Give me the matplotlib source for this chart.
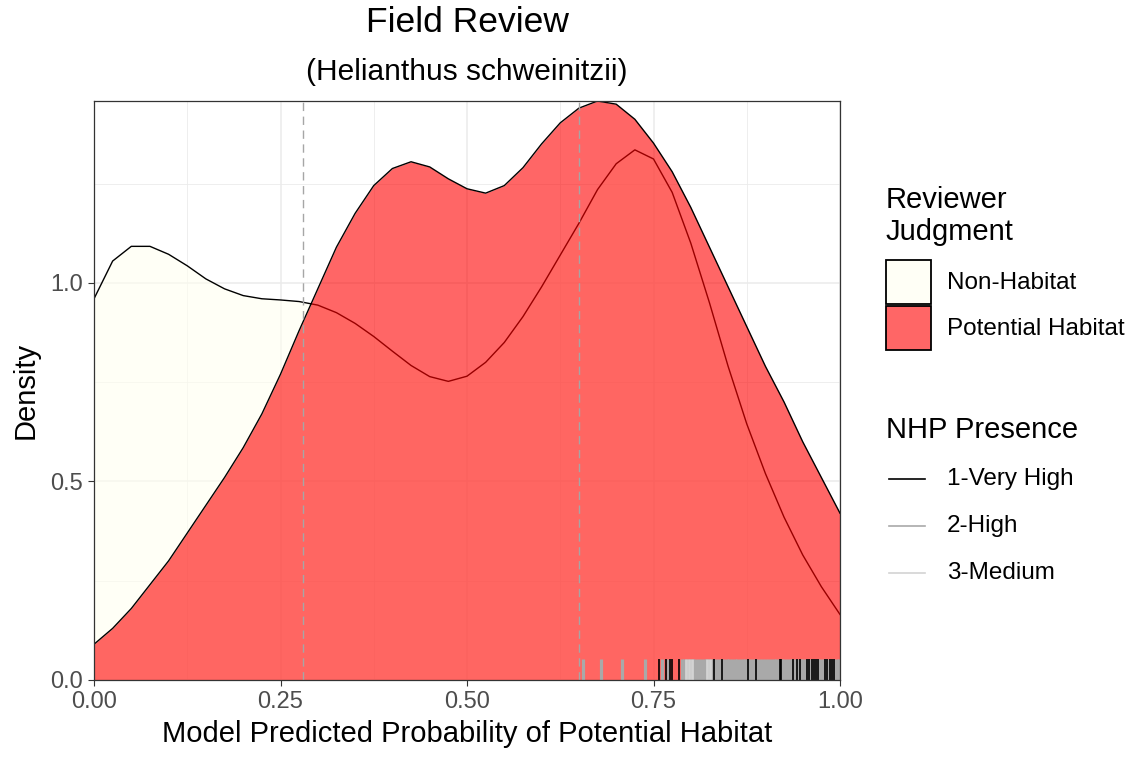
import numpy as np
import matplotlib
matplotlib.use("Agg")
import matplotlib.pyplot as plt
from matplotlib.patches import Rectangle
from matplotlib.lines import Line2D

plt.rcParams['font.family'] = ['Liberation Sans', 'DejaVu Sans']

# density estimates, every 0.025 on the x axis
x_grid = [0.000, 0.025, 0.050, 0.075, 0.100, 0.125, 0.150, 0.175, 0.200, 0.225,
          0.250, 0.275, 0.300, 0.325, 0.350, 0.375, 0.400, 0.425, 0.450, 0.475,
          0.500, 0.525, 0.550, 0.575, 0.600, 0.625, 0.650, 0.675, 0.700, 0.725,
          0.750, 0.775, 0.800, 0.825, 0.850, 0.875, 0.900, 0.925, 0.950, 0.975,
          1.000]
non_habitat = [0.960, 1.055, 1.092, 1.092, 1.072, 1.043, 1.010, 0.985, 0.968, 0.960,
               0.957, 0.953, 0.944, 0.925, 0.898, 0.865, 0.828, 0.792, 0.764, 0.752,
               0.765, 0.800, 0.850, 0.915, 0.990, 1.070, 1.150, 1.235, 1.300, 1.335,
               1.312, 1.228, 1.100, 0.950, 0.790, 0.645, 0.520, 0.410, 0.315, 0.235,
               0.165]
potential = [0.090, 0.130, 0.180, 0.240, 0.300, 0.370, 0.440, 0.510, 0.585, 0.670,
             0.770, 0.880, 0.985, 1.090, 1.175, 1.245, 1.288, 1.305, 1.292, 1.262,
             1.237, 1.226, 1.245, 1.290, 1.350, 1.403, 1.440, 1.458, 1.450, 1.412,
             1.352, 1.280, 1.190, 1.090, 0.990, 0.890, 0.790, 0.700, 0.600, 0.510,
             0.420]

# thresholds (dashed lines)
cutoffs = [0.28, 0.65]

# rug: predicted probabilities of the NHP records by presence class
rug_high = [0.655, 0.680, 0.708, 0.739, 0.762, 0.770, 0.788, 0.791, 0.795, 0.799,
            0.803, 0.806, 0.810, 0.814, 0.818, 0.821, 0.825, 0.829, 0.833, 0.836,
            0.840, 0.844, 0.848, 0.851, 0.855, 0.859, 0.862, 0.866, 0.870, 0.873,
            0.877, 0.881, 0.885, 0.888, 0.892, 0.896, 0.899, 0.903, 0.907, 0.911,
            0.914, 0.918, 0.922, 0.925, 0.929, 0.933, 0.936, 0.940, 0.944, 0.948,
            0.951, 0.955, 0.959, 0.962, 0.966, 0.970, 0.973, 0.977, 0.981, 0.985,
            0.988, 0.992, 0.996, 0.999]
rug_medium = [0.794, 0.797, 0.801, 0.822, 0.826]
rug_very_high = [0.757, 0.767, 0.772, 0.775, 0.784, 0.831, 0.842, 0.877, 0.887, 0.919,
                 0.921, 0.937, 0.942, 0.946, 0.956, 0.959, 0.962, 0.965, 0.968, 0.971,
                 0.980, 0.983, 0.986, 0.989, 0.992]

judgment_labels = ['Non-Habitat', 'Potential Habitat']
presence_labels = ['1-Very High', '2-High', '3-Medium']

W, H = 1135, 757
ivory = '#FFFFF0'
red = '#FF0000'
key_fill = ['#FFFFF6', '#FF6666']
presence_cols = ['#000000', '#A9A9A9', '#D3D3D3']

fig = plt.figure(figsize=(W / 100, H / 100), dpi=100)
ax = fig.add_axes([94 / W, 1 - 680 / H, (840 - 94) / W, (680 - 101) / H])

# grid like theme_bw
for v in [0.125, 0.375, 0.625, 0.875]:
    ax.axvline(v, color='#EBEBEB', lw=0.6, zorder=0)
for v in [0.25, 0.75, 1.25]:
    ax.axhline(v, color='#EBEBEB', lw=0.6, zorder=0)
for v in [0, 0.25, 0.5, 0.75, 1.0]:
    ax.axvline(v, color='#EBEBEB', lw=1.1, zorder=0)
for v in [0, 0.5, 1.0]:
    ax.axhline(v, color='#EBEBEB', lw=1.1, zorder=0)

xs = np.array(x_grid)
ax.fill_between(xs, 0, non_habitat, color=ivory, alpha=0.6, lw=0, zorder=1)
ax.plot(xs, non_habitat, color='black', lw=1.0, zorder=1.1)
ax.fill_between(xs, 0, potential, color=red, alpha=0.6, lw=0, zorder=1.2)
ax.plot(xs, potential, color='black', lw=1.0, zorder=1.3)

for c in cutoffs:
    ax.axvline(c, color='#A6A6A6', lw=1.0, ls=(0, (6, 4)), zorder=1.5)

trans = ax.get_xaxis_transform()
ax.vlines(rug_high, 0, 0.036, transform=trans, colors=presence_cols[1], lw=2.3, zorder=2)
ax.vlines(rug_medium, 0, 0.036, transform=trans, colors=presence_cols[2], lw=2.0, zorder=2.1)
ax.vlines(rug_very_high, 0, 0.036, transform=trans, colors=presence_cols[0], lw=1.2, zorder=2.2)

ax.set_xlim(0, 1)
ax.set_ylim(0, max(potential))
ax.set_xticks([0, 0.25, 0.5, 0.75, 1.0])
ax.set_xticklabels(['0.00', '0.25', '0.50', '0.75', '1.00'])
ax.set_yticks([0, 0.5, 1.0])
ax.set_yticklabels(['0.0', '0.5', '1.0'])
ax.tick_params(labelsize=17, colors='#333333', labelcolor='#4D4D4D',
               length=4.3, width=0.8, pad=3.5)
for s in ax.spines.values():
    s.set_color('#333333')
    s.set_linewidth(0.9)
    s.set_zorder(3)

ax.set_xlabel('Model Predicted Probability of Potential Habitat', fontsize=21, labelpad=5)
ax.set_ylabel('Density', fontsize=21, labelpad=8)

fig.text(467 / W, 1 - 22 / H, 'Field Review', fontsize=25.5, ha='center', va='center')
fig.text(467 / W, 1 - 72 / H, '(Helianthus schweinitzii)', fontsize=21.5, ha='center', va='center')

# legend: Reviewer Judgment
fig.text(886 / W, 1 - 200 / H, 'Reviewer', fontsize=21, va='center')
fig.text(886 / W, 1 - 232 / H, 'Judgment', fontsize=21, va='center')
for i, (lab, fc) in enumerate(zip(judgment_labels, key_fill)):
    top = 260 + i * 46
    fig.add_artist(Rectangle((886 / W, 1 - (top + 44) / H), 45 / W, 44 / H,
                             transform=fig.transFigure, facecolor=fc,
                             edgecolor='black', lw=1.3))
    fig.text(947 / W, 1 - (top + 23) / H, lab, fontsize=17.5, va='center')

# legend: NHP Presence
fig.text(886 / W, 1 - 430 / H, 'NHP Presence', fontsize=21, va='center')
for i, (lab, col) in enumerate(zip(presence_labels, presence_cols)):
    yy = 1 - (479 + i * 47) / H
    fig.add_artist(Line2D([889 / W, 925 / W], [yy, yy], transform=fig.transFigure,
                          color=col, lw=1.2))
    fig.text(947 / W, yy, lab, fontsize=17.5, va='center')

fig.savefig('out.png', dpi=100)
